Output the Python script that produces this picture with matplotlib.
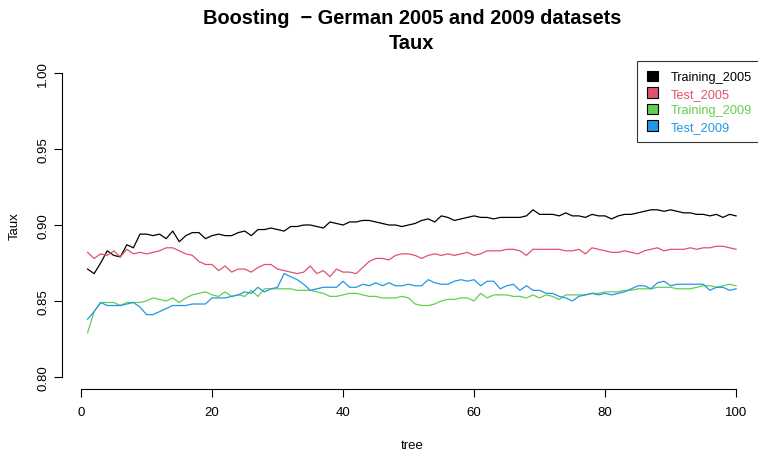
import numpy as np
import matplotlib
matplotlib.use("Agg")
import matplotlib.pyplot as plt
from matplotlib.patches import Patch

plt.rcParams['font.family'] = ['Liberation Sans', 'DejaVu Sans']

tree = np.arange(1, 101)

training_2005 = [
    0.871, 0.868, 0.875, 0.883, 0.880, 0.879, 0.887, 0.885, 0.894, 0.894,
    0.893, 0.894, 0.891, 0.896, 0.889, 0.893, 0.895, 0.895, 0.891, 0.893,
    0.894, 0.893, 0.893, 0.895, 0.896, 0.893, 0.897, 0.897, 0.898, 0.897,
    0.896, 0.899, 0.899, 0.900, 0.900, 0.899, 0.898, 0.902, 0.901, 0.900,
    0.902, 0.902, 0.903, 0.903, 0.902, 0.901, 0.900, 0.900, 0.899, 0.900,
    0.901, 0.903, 0.904, 0.902, 0.906, 0.905, 0.903, 0.904, 0.905, 0.906,
    0.905, 0.905, 0.904, 0.905, 0.905, 0.905, 0.905, 0.906, 0.910, 0.907,
    0.907, 0.907, 0.906, 0.908, 0.906, 0.906, 0.905, 0.907, 0.906, 0.906,
    0.904, 0.906, 0.907, 0.907, 0.908, 0.909, 0.910, 0.910, 0.909, 0.910,
    0.909, 0.908, 0.908, 0.907, 0.907, 0.906, 0.907, 0.905, 0.907, 0.906,
]

test_2005 = [
    0.882, 0.878, 0.881, 0.880, 0.883, 0.879, 0.884, 0.881, 0.882, 0.881,
    0.882, 0.883, 0.885, 0.885, 0.883, 0.881, 0.880, 0.876, 0.874, 0.874,
    0.870, 0.873, 0.869, 0.871, 0.871, 0.869, 0.872, 0.874, 0.874, 0.871,
    0.870, 0.869, 0.868, 0.869, 0.873, 0.868, 0.870, 0.866, 0.871, 0.869,
    0.869, 0.868, 0.872, 0.876, 0.878, 0.878, 0.877, 0.880, 0.881, 0.881,
    0.880, 0.878, 0.880, 0.881, 0.880, 0.881, 0.880, 0.881, 0.882, 0.880,
    0.881, 0.883, 0.883, 0.883, 0.884, 0.884, 0.883, 0.880, 0.884, 0.884,
    0.884, 0.884, 0.884, 0.883, 0.883, 0.884, 0.881, 0.885, 0.884, 0.883,
    0.882, 0.882, 0.883, 0.882, 0.881, 0.883, 0.884, 0.885, 0.883, 0.884,
    0.884, 0.884, 0.885, 0.884, 0.885, 0.885, 0.886, 0.886, 0.885, 0.884,
]

training_2009 = [
    0.829, 0.843, 0.849, 0.849, 0.849, 0.847, 0.849, 0.849, 0.849, 0.850,
    0.852, 0.851, 0.850, 0.852, 0.849, 0.852, 0.854, 0.855, 0.856, 0.854,
    0.853, 0.856, 0.853, 0.854, 0.853, 0.857, 0.853, 0.858, 0.858, 0.858,
    0.858, 0.858, 0.857, 0.857, 0.857, 0.856, 0.855, 0.853, 0.853, 0.854,
    0.855, 0.855, 0.854, 0.853, 0.853, 0.852, 0.852, 0.852, 0.853, 0.852,
    0.848, 0.847, 0.847, 0.848, 0.850, 0.851, 0.851, 0.852, 0.852, 0.850,
    0.855, 0.852, 0.854, 0.854, 0.854, 0.853, 0.853, 0.852, 0.854, 0.852,
    0.854, 0.853, 0.851, 0.854, 0.854, 0.854, 0.854, 0.855, 0.855, 0.856,
    0.856, 0.856, 0.857, 0.857, 0.858, 0.858, 0.858, 0.859, 0.859, 0.859,
    0.858, 0.858, 0.858, 0.859, 0.860, 0.860, 0.859, 0.860, 0.861, 0.860,
]

test_2009 = [
    0.838, 0.843, 0.849, 0.847, 0.847, 0.847, 0.848, 0.849, 0.846, 0.841,
    0.841, 0.843, 0.845, 0.847, 0.847, 0.847, 0.848, 0.848, 0.848, 0.852,
    0.852, 0.852, 0.853, 0.854, 0.856, 0.855, 0.859, 0.856, 0.858, 0.859,
    0.868, 0.866, 0.864, 0.861, 0.857, 0.858, 0.859, 0.859, 0.859, 0.863,
    0.859, 0.859, 0.861, 0.860, 0.862, 0.860, 0.862, 0.860, 0.860, 0.861,
    0.860, 0.860, 0.864, 0.862, 0.861, 0.861, 0.863, 0.864, 0.863, 0.864,
    0.860, 0.863, 0.863, 0.858, 0.860, 0.861, 0.857, 0.860, 0.857, 0.857,
    0.855, 0.855, 0.853, 0.852, 0.850, 0.853, 0.854, 0.855, 0.854, 0.855,
    0.854, 0.855, 0.856, 0.858, 0.860, 0.860, 0.858, 0.862, 0.863, 0.860,
    0.861, 0.861, 0.861, 0.861, 0.861, 0.857, 0.859, 0.859, 0.857, 0.858,
]

series = ["Training_2005", "Test_2005", "Training_2009", "Test_2009"]
colors = ["#000000", "#DF536B", "#61D04F", "#2297E6"]

fig = plt.figure(figsize=(7.58, 4.52), dpi=100)
ax = fig.add_axes([0.0813, 0.137, 0.924, 0.726])

for y, c in zip([training_2005, test_2005, training_2009, test_2009], colors):
    ax.plot(tree, y, color=c, lw=0.9)

# R-style axes: 4% padding, no box
ax.set_xlim(1 - 0.04 * 99, 100 + 0.04 * 99)
ax.set_ylim(0.792, 1.008)
ax.set_xticks([0, 20, 40, 60, 80, 100])
ax.set_yticks([0.80, 0.85, 0.90, 0.95, 1.00])
ax.set_yticklabels(["0.80", "0.85", "0.90", "0.95", "1.00"], rotation=90, va="center")
for s in ["top", "right"]:
    ax.spines[s].set_visible(False)
ax.spines["left"].set_bounds(0.80, 1.00)
ax.spines["bottom"].set_bounds(0, 100)
ax.tick_params(direction="out", length=6, width=0.8, labelsize=9.5)
ax.tick_params(axis="x", pad=6)
ax.tick_params(axis="y", pad=3)
ax.set_xlabel("tree", fontsize=9.5, labelpad=15)
ax.set_ylabel("Taux", fontsize=9.5, labelpad=12)
ax.set_title("Boosting  \u2212 German 2005 and 2009 datasets\nTaux",
             fontsize=14.4, fontweight="bold", pad=9, linespacing=1.45)

handles = [Patch(facecolor=c, edgecolor="black", lw=0.8) for c in colors]
leg = ax.legend(handles, series, loc="upper right", bbox_to_anchor=(1.0, 1.0),
                fontsize=9.2, frameon=True, fancybox=False, borderpad=0.75,
                handlelength=0.9, handleheight=0.9, handletextpad=1.0,
                labelspacing=0.3, borderaxespad=0.0)
leg.get_frame().set_edgecolor("black")
leg.get_frame().set_linewidth(0.8)
for t, c in zip(leg.get_texts(), colors):
    t.set_color(c)

fig.savefig("out.png", dpi=100)
